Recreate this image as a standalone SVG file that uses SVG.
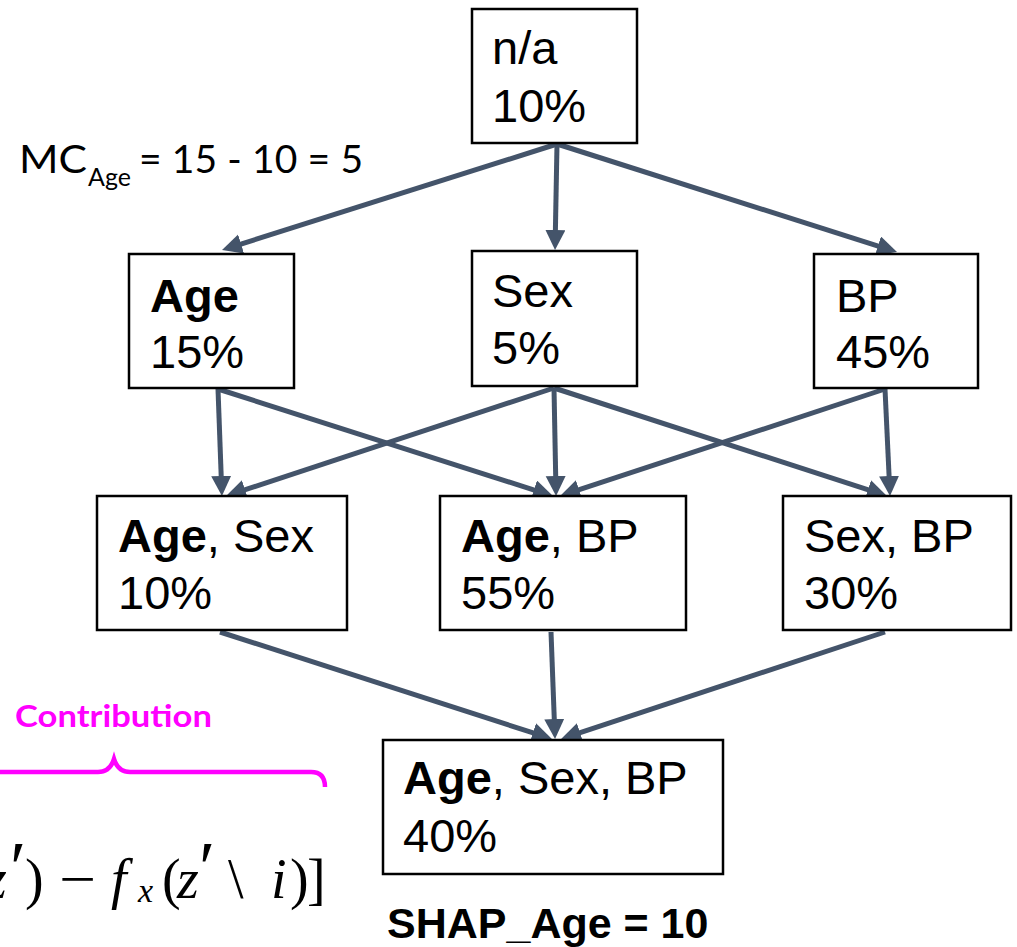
<svg xmlns="http://www.w3.org/2000/svg" width="1017" height="947" viewBox="0 0 1017 947">
  <style>
    .box { fill: #ffffff; stroke: #000000; stroke-width: 2.5; }
    .lbl { font-family: "Liberation Sans", Arial, sans-serif; font-size: 47px; fill: #000000; }
    .b { font-weight: bold; }
    .edge { stroke: #44546A; stroke-width: 5; fill: none; marker-end: url(#head); }
    .mc { font-family: Lato, "Open Sans", sans-serif; fill: #000000; }
    .math { font-family: "Liberation Serif", "Times New Roman", serif; font-size: 56px; fill: #000000; }
    .it { font-style: italic; }
    .prime { font-size: 74px; }
  </style>
  <defs>
    <marker id="head" markerUnits="userSpaceOnUse" markerWidth="22" markerHeight="22" refX="11" refY="10" orient="auto">
      <path d="M0,0 L20,10 L0,20 z" fill="#44546A"/>
    </marker>
  </defs>

  <rect width="1017" height="947" fill="#ffffff"/>

  <!-- connectors -->
  <g id="connectors">
    <line class="edge" x1="557" y1="144" x2="230.6" y2="247.3"/>
    <line class="edge" x1="557" y1="144" x2="555.2" y2="241"/>
    <line class="edge" x1="557" y1="144" x2="888.4" y2="249.3"/>
    <line class="edge" x1="218" y1="389" x2="221.6" y2="487"/>
    <line class="edge" x1="218" y1="389" x2="544.4" y2="493.3"/>
    <line class="edge" x1="554" y1="388" x2="234.6" y2="493.2"/>
    <line class="edge" x1="554" y1="388" x2="555.9" y2="487"/>
    <line class="edge" x1="554" y1="388" x2="878.4" y2="493.2"/>
    <line class="edge" x1="885" y1="389" x2="568.6" y2="493.2"/>
    <line class="edge" x1="885" y1="389" x2="889.6" y2="487"/>
    <line class="edge" x1="220" y1="632" x2="543.4" y2="736.2"/>
    <line class="edge" x1="551" y1="632" x2="554.7" y2="730"/>
    <line class="edge" x1="885" y1="632" x2="569.6" y2="736.2"/>
  </g>

  <!-- nodes -->
  <g id="node-empty">
    <rect class="box" x="472" y="9" width="165" height="134"/>
    <text class="lbl" x="492" y="64">n/a</text>
    <text class="lbl" x="492" y="122">10%</text>
  </g>
  <g id="node-age">
    <rect class="box" x="129" y="254" width="165" height="134"/>
    <text class="lbl b" x="150" y="312">Age</text>
    <text class="lbl" x="150" y="368">15%</text>
  </g>
  <g id="node-sex">
    <rect class="box" x="472" y="251" width="165" height="135"/>
    <text class="lbl" x="492" y="307">Sex</text>
    <text class="lbl" x="492" y="364">5%</text>
  </g>
  <g id="node-bp">
    <rect class="box" x="814" y="254" width="164" height="134"/>
    <text class="lbl" x="836" y="312">BP</text>
    <text class="lbl" x="836" y="368">45%</text>
  </g>
  <g id="node-age-sex">
    <rect class="box" x="97" y="496" width="250" height="134"/>
    <text class="lbl" x="118" y="552"><tspan class="b">Age</tspan>, Sex</text>
    <text class="lbl" x="118" y="609">10%</text>
  </g>
  <g id="node-age-bp">
    <rect class="box" x="440" y="496" width="246" height="134"/>
    <text class="lbl" x="461" y="552"><tspan class="b">Age</tspan>, BP</text>
    <text class="lbl" x="461" y="609">55%</text>
  </g>
  <g id="node-sex-bp">
    <rect class="box" x="783" y="496" width="228" height="134"/>
    <text class="lbl" x="804" y="552">Sex, BP</text>
    <text class="lbl" x="804" y="609">30%</text>
  </g>
  <g id="node-all">
    <rect class="box" x="383" y="740" width="340" height="134"/>
    <text class="lbl" x="403" y="794"><tspan class="b">Age</tspan>, Sex, BP</text>
    <text class="lbl" x="403" y="852">40%</text>
  </g>

  <!-- annotations -->
  <g id="mc-label">
    <text class="mc" x="19" y="173" style="font-size:39px" textLength="68" lengthAdjust="spacingAndGlyphs">MC</text>
    <text class="mc" x="88" y="186" style="font-size:25px">Age</text>
    <text class="mc" x="139" y="173" style="font-size:39px" textLength="224">= 15 - 10 = 5</text>
  </g>
  <g id="shap-label">
    <text class="lbl b" x="387" y="938" style="font-size:43px">SHAP_Age = 10</text>
  </g>
  <g id="contribution">
    <text x="15" y="727" font-family="Lato, 'Open Sans', sans-serif" font-weight="bold" font-size="31" fill="#FF00FF" textLength="197" lengthAdjust="spacingAndGlyphs">Contribution</text>
    <path d="M-2,772 L98,772 Q110,772 114,759 Q118,772 130,772 L311,772 Q325,772 325,787" fill="none" stroke="#FF00FF" stroke-width="4.5"/>
  </g>
  <!-- tail of the marginal-contribution term: f_x(z') - f_x(z' \ i)] -->
  <g id="formula" class="math">
    <text class="it" x="-15" y="898">z</text>
    <text class="prime" x="10" y="893">′</text>
    <text x="25" y="898">)</text>
    <text x="59" y="898" textLength="37" lengthAdjust="spacingAndGlyphs">−</text>
    <text class="it" x="111" y="898">f</text>
    <text class="it" x="138" y="902" style="font-size:34px">x</text>
    <text x="162" y="898">(</text>
    <text class="it" x="177" y="898">z</text>
    <text class="prime" x="199" y="893">′</text>
    <text x="228" y="898">\</text>
    <text class="it" x="271" y="898">i</text>
    <text x="290" y="898">)</text>
    <text x="307" y="898">]</text>
  </g>
</svg>
